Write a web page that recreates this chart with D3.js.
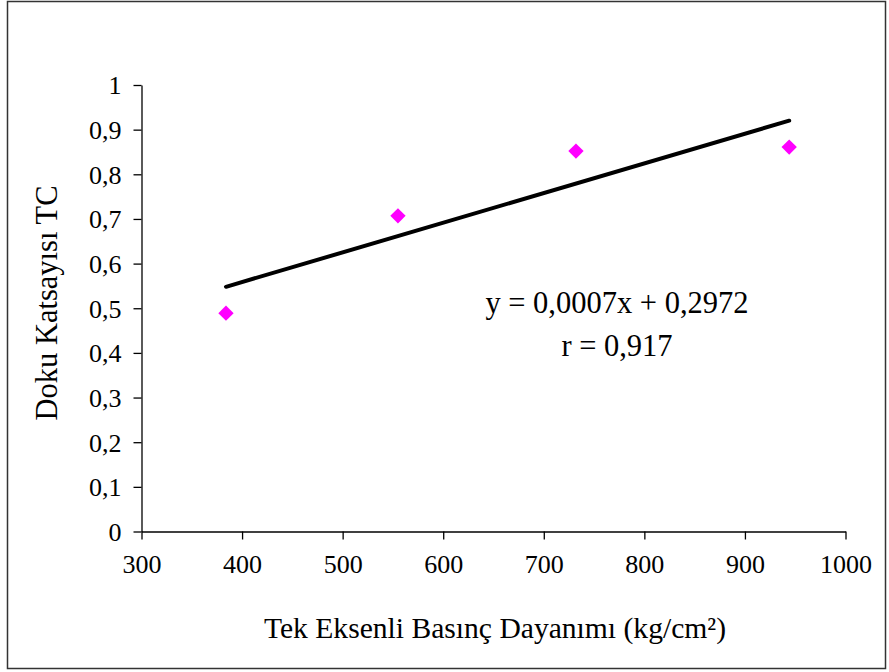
<!DOCTYPE html>
<html>
<head>
<meta charset="utf-8">
<script src="https://cdn.jsdelivr.net/npm/d3@7"></script>
<style>
  html, body { margin: 0; padding: 0; background: #fff; }
  svg text { font-family: "Liberation Serif", "Times New Roman", serif; fill: #000; }
</style>
</head>
<body>
<svg id="chart" width="889" height="672"></svg>
<script>
// Uniaxial compressive strength (kg/cm²) vs. texture coefficient TC
const strength = [384, 555, 732, 944];
const textureCoef = [0.489, 0.707, 0.852, 0.861];
const xTicks = [300, 400, 500, 600, 700, 800, 900, 1000];
const yTicks = [0, 0.1, 0.2, 0.3, 0.4, 0.5, 0.6, 0.7, 0.8, 0.9, 1];
const equationLines = ["y = 0,0007x + 0,2972", "r = 0,917"];

const svg = d3.select("#chart");

// chart frame
svg.append("rect")
  .attr("x", 7.5).attr("y", 1.5)
  .attr("width", 878).attr("height", 667)
  .attr("fill", "#fff").attr("stroke", "#333").attr("stroke-width", 1.5);

const x = d3.scaleLinear().domain([300, 1000]).range([141.5, 845.5]);
const y = d3.scaleLinear().domain([0, 1]).range([531.5, 85]);

const fmt = v => String(v).replace(".", ",");

const xAxis = svg.append("g")
  .attr("transform", `translate(0,${y(0)})`)
  .call(d3.axisBottom(x).tickValues(xTicks).tickSizeInner(8).tickSizeOuter(0).tickPadding(14).tickFormat(d => d));
const yAxis = svg.append("g")
  .attr("transform", `translate(${x(300)},0)`)
  .call(d3.axisLeft(y).tickValues(yTicks).tickSizeInner(8).tickSizeOuter(0).tickPadding(12).tickFormat(fmt));

[xAxis, yAxis].forEach(g => {
  g.select(".domain").attr("stroke", "#000").attr("stroke-width", 1.3);
  g.selectAll(".tick line").attr("stroke", "#000").attr("stroke-width", 1.3);
  g.selectAll(".tick text").attr("font-size", 26).attr("font-family", "Liberation Serif").attr("fill", "#000");
});
yAxis.selectAll(".tick text").attr("dy", "0.34em");
xAxis.selectAll(".tick text").attr("dy", "0.75em");

// least-squares trend line
const n = strength.length;
const mx = d3.mean(strength), my = d3.mean(textureCoef);
let sxy = 0, sxx = 0;
for (let i = 0; i < n; i++) {
  sxy += (strength[i] - mx) * (textureCoef[i] - my);
  sxx += (strength[i] - mx) ** 2;
}
const slope = sxy / sxx, intercept = my - slope * mx;
const [x0, x1] = d3.extent(strength);
svg.append("line")
  .attr("x1", x(x0)).attr("y1", y(intercept + slope * x0))
  .attr("x2", x(x1)).attr("y2", y(intercept + slope * x1))
  .attr("stroke", "#000").attr("stroke-width", 4).attr("stroke-linecap", "round");

// data points
svg.append("g").selectAll("path")
  .data(strength.map((v, i) => [v, textureCoef[i]]))
  .join("path")
  .attr("d", d3.symbol(d3.symbolDiamond2, 150))
  .attr("transform", d => `translate(${x(d[0])},${y(d[1])})`)
  .attr("fill", "#ff00ff");

// regression equation
svg.append("g").selectAll("text")
  .data(equationLines)
  .join("text")
  .attr("x", 617).attr("y", (d, i) => 313 + i * 43)
  .attr("text-anchor", "middle")
  .attr("font-size", 30.5)
  .text(d => d);

// axis titles
svg.append("text")
  .attr("x", 495).attr("y", 638)
  .attr("text-anchor", "middle").attr("font-size", 29.6)
  .text("Tek Eksenli Basınç Dayanımı (kg/cm²)");
svg.append("text")
  .attr("transform", "translate(57,303) rotate(-90)")
  .attr("text-anchor", "middle").attr("font-size", 30.5)
  .text("Doku Katsayısı TC");
</script>
</body>
</html>
